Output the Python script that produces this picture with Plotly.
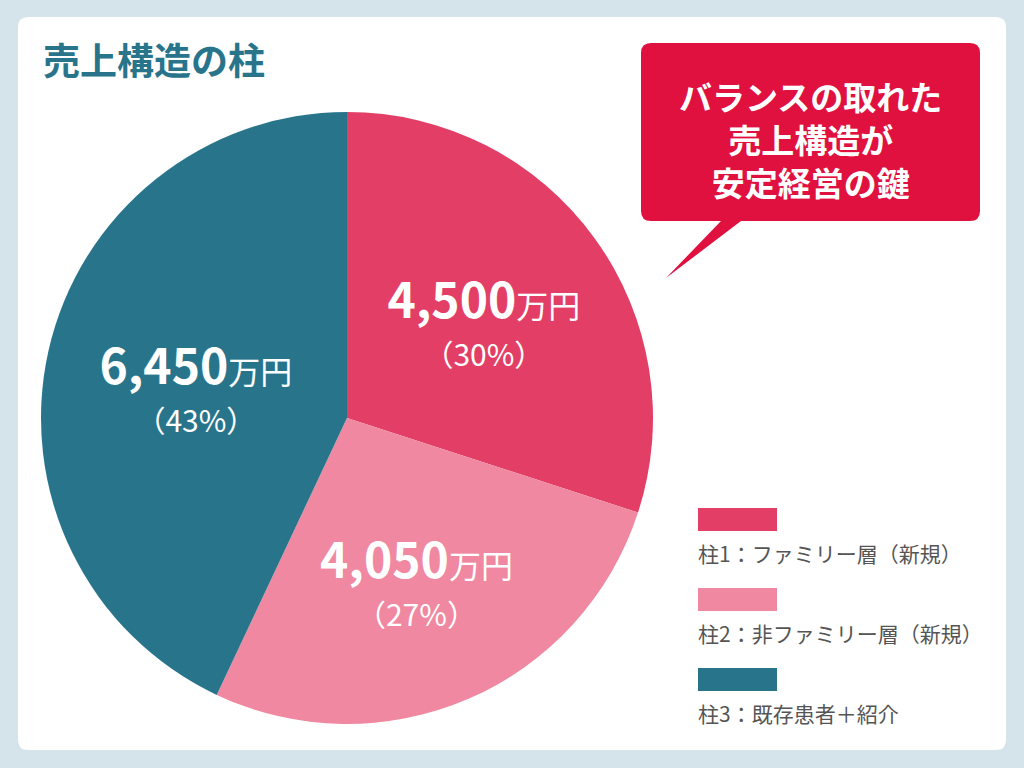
import plotly.graph_objects as go

# data
pillars = ["柱1：ファミリー層（新規）", "柱2：非ファミリー層（新規）", "柱3：既存患者＋紹介"]
amounts = [4500, 4050, 6450]  # 万円
amount_labels = ["4,500", "4,050", "6,450"]
colors = ["#e33f66", "#ef88a0", "#28758b"]

title = "売上構造の柱"
callout = ["バランスの取れた", "売上構造が", "安定経営の鍵"]

W, H = 1024, 768
FONT = "Noto Sans CJK JP"


def px(x):
    return x / W


def py(y):
    return 1 - y / H


def round_rect(x0, y0, x1, y1, r, tail=None):
    # path in paper coords, built from pixel coords (y down)
    pts = [f"M{px(x0 + r)},{py(y0)}", f"L{px(x1 - r)},{py(y0)}",
           f"Q{px(x1)},{py(y0)} {px(x1)},{py(y0 + r)}", f"L{px(x1)},{py(y1 - r)}",
           f"Q{px(x1)},{py(y1)} {px(x1 - r)},{py(y1)}"]
    if tail:
        (bx1, bx0, tx, ty) = tail
        pts += [f"L{px(bx1)},{py(y1)}", f"L{px(tx)},{py(ty)}", f"L{px(bx0)},{py(y1)}"]
    pts += [f"L{px(x0 + r)},{py(y1)}",
            f"Q{px(x0)},{py(y1)} {px(x0)},{py(y1 - r)}", f"L{px(x0)},{py(y0 + r)}",
            f"Q{px(x0)},{py(y0)} {px(x0 + r)},{py(y0)}", "Z"]
    return " ".join(pts)


total = sum(amounts)
pct = [round(a / total * 100) for a in amounts]
texts = [
    f"<b><span style='font-size:48px'>{lab}</span></b><span style='font-size:32px'>万円</span>"
    f"<br><span style='font-size:30px'>（{p}%）</span>"
    for lab, p in zip(amount_labels, pct)
]

fig = go.Figure()
fig.add_trace(go.Pie(
    labels=pillars,
    values=amounts,
    text=texts,
    textinfo="text",
    textposition="inside",
    insidetextorientation="horizontal",
    textfont=dict(family=FONT, color="white", size=37),
    marker=dict(colors=colors, line=dict(width=0)),
    sort=False,
    direction="clockwise",
    rotation=0,
    hole=0,
    showlegend=False,
    domain=dict(x=[px(41), px(653)], y=[py(724), py(112)]),
    hoverinfo="label+value+percent",
))

shapes = []
# white card
shapes.append(dict(type="path", xref="paper", yref="paper", layer="below",
                   path=round_rect(18, 17, 1006, 750, 10),
                   fillcolor="white", line=dict(width=0)))
# callout bubble
shapes.append(dict(type="path", xref="paper", yref="paper", layer="above",
                   path=round_rect(641, 43, 980, 221, 10, tail=(741, 721, 666, 278)),
                   fillcolor="#e0103f", line=dict(width=0)))

annotations = [dict(xref="paper", yref="paper", x=px(41), y=py(59), xanchor="left", yanchor="middle",
                    text=f"<b>{title}</b>", showarrow=False,
                    font=dict(family=FONT, size=37, color="#28758b"))]

# callout text, one block
annotations.append(dict(xref="paper", yref="paper", x=px(810), y=py(139),
                        xanchor="center", yanchor="middle", align="center",
                        text="<br>".join(f"<b>{line}</b>" for line in callout),
                        showarrow=False, font=dict(family=FONT, size=33, color="white")))

# legend
for i, (name, c) in enumerate(zip(pillars, colors)):
    top = 508 + i * 80
    shapes.append(dict(type="rect", xref="paper", yref="paper",
                       x0=px(698), x1=px(777), y0=py(top + 23), y1=py(top),
                       fillcolor=c, line=dict(width=0)))
    annotations.append(dict(xref="paper", yref="paper", x=px(696), y=py(top + 45),
                            xanchor="left", yanchor="middle", text=name, showarrow=False,
                            font=dict(family=FONT, size=21, color="#555555")))

fig.update_layout(
    width=W, height=H,
    margin=dict(l=0, r=0, t=0, b=0),
    paper_bgcolor="#d5e3ea",
    plot_bgcolor="#d5e3ea",
    shapes=shapes,
    annotations=annotations,
    font=dict(family=FONT),
)

fig.write_html("out.html", config={"displayModeBar": False},
               post_script="document.body.style.margin='0';")
